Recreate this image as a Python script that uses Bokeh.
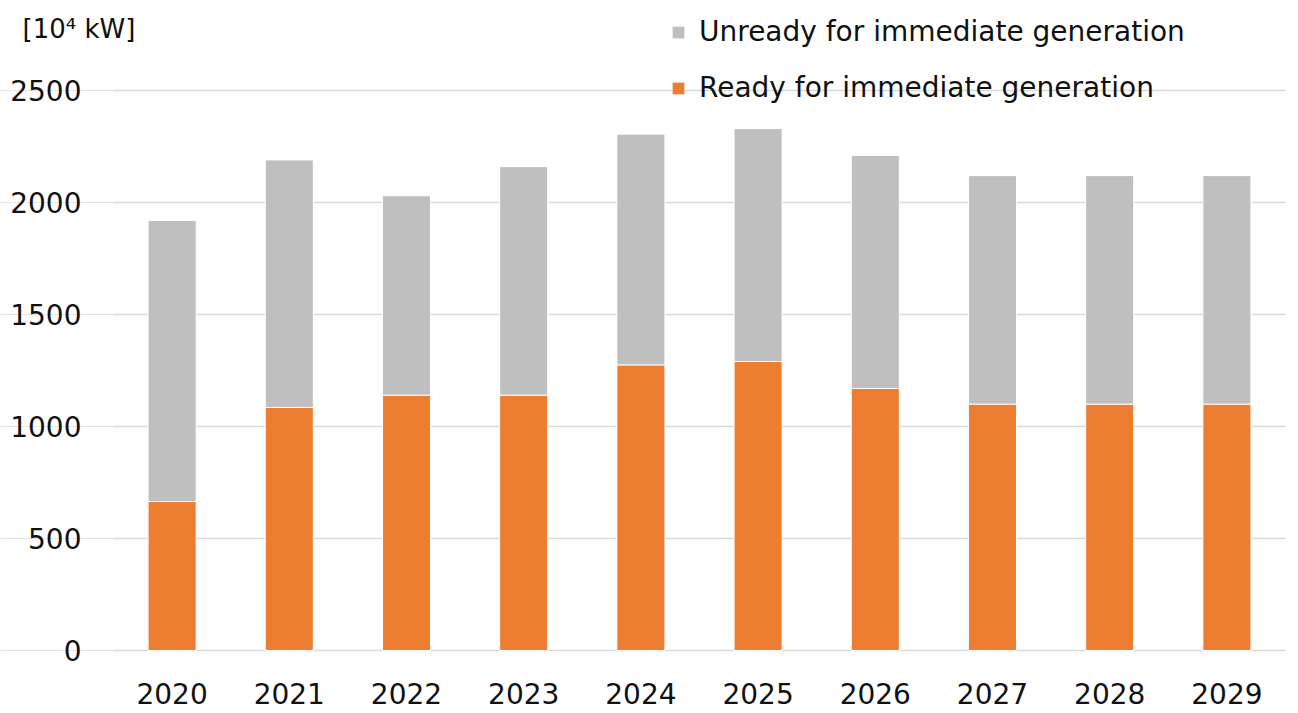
from bokeh.plotting import figure
from bokeh.models import (ColumnDataSource, Legend, LegendItem, Label, Range1d,
                          LinearAxis, Grid, FixedTicker)
from bokeh.embed import file_html
from bokeh.resources import INLINE

years = [2020, 2021, 2022, 2023, 2024, 2025, 2026, 2027, 2028, 2029]
year_labels = ["2020", "2021", "2022", "2023", "2024", "2025", "2026", "2027", "2028", "2029"]
ready = [665, 1085, 1140, 1140, 1275, 1290, 1170, 1100, 1100, 1100]
total = [1920, 2190, 2030, 2160, 2305, 2330, 2210, 2120, 2120, 2120]
unready = [t - r for t, r in zip(total, ready)]
y_ticks = [0, 500, 1000, 1500, 2000, 2500]
unit_text = "[10⁴ kW]"
series_names = ["Unready for immediate generation", "Ready for immediate generation"]

FONT = "DejaVu Sans"
ORANGE = "#ED7D31"
GRAY = "#BFBFBF"
TXT = "#111111"

src = ColumnDataSource(dict(year=years, ready=ready, unready=unready))

# frame spans the full width; the first 113 px hold the value axis
x_left = years[0] - 0.5 - 113 / 117.2
p = figure(width=1298, height=713,
           x_range=Range1d(x_left, years[-1] + 0.5), y_range=(-58, 2857),
           output_backend="svg", toolbar_location=None, y_axis_location=None,
           min_border_left=0, min_border_right=13, min_border_top=10, min_border_bottom=50)
p.outline_line_color = None
p.background_fill_color = "white"
p.xgrid.grid_line_color = None

yticker = FixedTicker(ticks=y_ticks)
yaxis = LinearAxis(ticker=yticker, fixed_location=years[0] - 0.5)
p.add_layout(yaxis, "left")
ygrid = Grid(dimension=1, ticker=yticker, grid_line_color="#D9D9D9", grid_line_width=1.5,
             cross_bounds=(years[0] - 0.5, years[-1] + 0.5))
p.add_layout(ygrid)

r = p.vbar_stack(["ready", "unready"], x="year", width=0.41, source=src,
                 color=[ORANGE, GRAY], line_color="white", line_width=1)

p.xaxis.ticker = FixedTicker(ticks=years)
p.xaxis.major_label_overrides = dict(zip(years, year_labels))
for ax in (p.xaxis[0], yaxis):
    ax.axis_line_color = None
    ax.major_tick_line_color = None
    ax.minor_tick_line_color = None
    ax.major_tick_in = 0
    ax.major_tick_out = 0
    ax.major_label_text_font = FONT
    ax.major_label_text_font_size = "28px"
    ax.major_label_text_color = TXT
yaxis.major_label_standoff = 32
p.xaxis.major_label_standoff = 19

legend = Legend(items=[LegendItem(label=series_names[0], renderers=[r[1]]),
                       LegendItem(label=series_names[1], renderers=[r[0]])],
                location=(670, 559), orientation="vertical",
                glyph_width=16, glyph_height=16, label_standoff=13, spacing=23,
                padding=0, margin=0, border_line_color=None, background_fill_alpha=0,
                label_text_font=FONT, label_text_font_size="28px", label_text_color=TXT)
p.add_layout(legend, "center")

unit = Label(x=22, y=635, x_units="screen", y_units="screen", text=unit_text,
             text_font=FONT, text_font_size="26px", text_color=TXT, text_baseline="middle")
p.add_layout(unit)

open("out.html", "w").write(file_html(p, INLINE))
